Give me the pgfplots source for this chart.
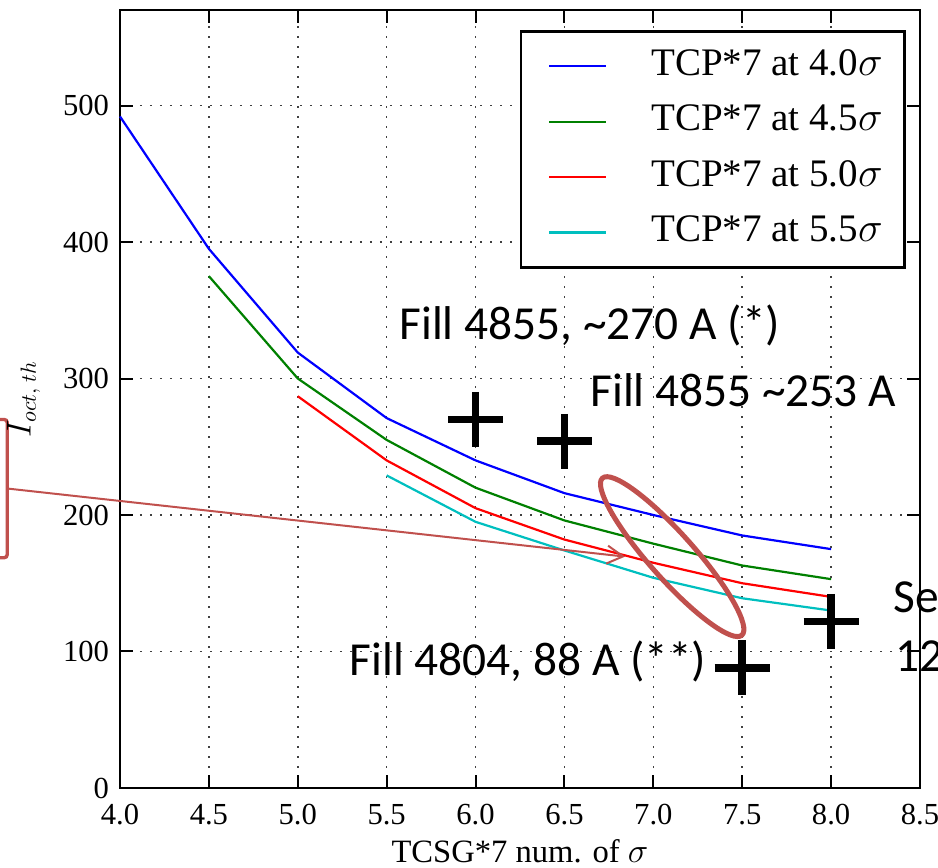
\documentclass[border=0pt]{standalone}
\usepackage{fontspec}
\setmainfont{Liberation Serif}
\newfontfamily\calibri{Carlito}
\usepackage{pgfplots}
\pgfplotsset{compat=1.18}
\usetikzlibrary{arrows.meta,shapes.geometric,calc}
\definecolor{annRed}{RGB}{192,80,77}
\definecolor{mplGreen}{RGB}{0,128,0}
\definecolor{mplCyan}{RGB}{0,191,191}

\begin{document}
\begin{tikzpicture}
\begin{axis}[
    name=ax,
    scale only axis, width=400pt, height=389pt,
    xmin=4, xmax=8.5, ymin=0, ymax=570,
    xtick={4,4.5,5,5.5,6,6.5,7,7.5,8,8.5},
    ytick={0,100,200,300,400,500},
    xticklabel style={/pgf/number format/fixed, /pgf/number format/fixed zerofill, /pgf/number format/precision=1, yshift=-4.5pt},
    yticklabel style={xshift=-2pt},
    /pgf/number format/assume math mode=true,
    tick label style={font=\fontsize{15.3}{18}\selectfont},
    xlabel={TCSG*7 num. of $\sigma$},
    xlabel style={font=\fontsize{16.3}{19}\selectfont, at={(axis description cs:0.5,0)}, anchor=base, yshift=-37.5pt},
    ylabel={$I_{oct,\;th}$},
    ylabel style={font=\fontsize{16}{19}\selectfont, at={(axis description cs:-0.091,0.5)}, anchor=south},
    axis line style={line width=1.3pt},
    tick style={black, line width=1pt},
    major tick length=6.3pt,
    tick align=inside,
    grid=major,
    grid style={black!75, line width=0.8pt, dash pattern=on 1pt off 4pt},
    clip=false,
    legend cell align=left,
    legend style={
        at={(axis description cs:1,1)}, anchor=north east, xshift=-7pt, yshift=-10pt,
        draw=black, line width=1.3pt, fill=white,
        font=\fontsize{19.5}{23}\selectfont,
        inner xsep=11pt, inner ysep=8.5pt,
        nodes={inner sep=0pt, text height=13.5pt, text depth=4.5pt},
        row sep=9.7pt,
        /tikz/every odd column/.append style={column sep=22pt},
    },
    legend image code/.code={\path (0pt,0pt); \draw[#1] (2.5pt,0pt) -- (31pt,0pt);},
]
% TCP*7 at 4.0 sigma
\addplot[blue, line width=1.1pt] coordinates {
    (4.0,492) (4.5,395) (5.0,319) (5.5,271) (6.0,240) (6.5,216) (7.0,200) (7.5,185) (8.0,175)
};
\addlegendentry{TCP*7 at 4.0$\sigma$}
% TCP*7 at 4.5 sigma
\addplot[mplGreen, line width=1.1pt] coordinates {
    (4.5,375) (5.0,300) (5.5,255) (6.0,220) (6.5,196) (7.0,179) (7.5,163) (8.0,153)
};
\addlegendentry{TCP*7 at 4.5$\sigma$}
% TCP*7 at 5.0 sigma
\addplot[red, line width=1.1pt] coordinates {
    (5.0,287) (5.5,240) (6.0,205) (6.5,182) (7.0,165) (7.5,150) (8.0,140)
};
\addlegendentry{TCP*7 at 5.0$\sigma$}
% TCP*7 at 5.5 sigma
\addplot[mplCyan, line width=1.1pt] coordinates {
    (5.5,229) (6.0,195) (6.5,174) (7.0,154) (7.5,139) (8.0,130)
};
\addlegendentry{TCP*7 at 5.5$\sigma$}

% measured fills
\addplot[only marks, mark=+, mark size=13.75pt, black, mark options={line width=3.8pt}, forget plot] coordinates {
    (6.0,270) (6.5,254) (7.5,88) (8.0,122)
};

% annotations
\draw[annRed, line width=1.7pt, rounded corners=1.5pt] (axis cs:2.9,270) rectangle (axis cs:3.3656,168.7);
\draw[annRed, line width=1pt, -{Straight Barb[length=8pt,width=9pt]}] (axis cs:3.3656,219.4) -- (axis cs:6.841,169.5);
\node[draw=annRed, line width=2.5pt, ellipse, inner sep=0pt, minimum width=105pt, minimum height=22.5pt, rotate=-48.4] at (axis cs:7.106,169.5) {};

\begin{scope}[every node/.style={anchor=base west, inner sep=0pt, font=\calibri\fontsize{23.7}{28}\selectfont}]
\node at (axis cs:5.570,328.7) {Fill 4855, \textasciitilde270 A (*)};
\node at (axis cs:6.644,279.5) {Fill 4855 \textasciitilde253 A};
\node at (axis cs:5.289,82.2) {Fill 4804, 88 A (**)};
\node at (axis cs:8.348,128.4) {Se};
\node at (axis cs:8.359,85.1) {12};
\end{scope}
\end{axis}
\pgfresetboundingbox
\path[use as bounding box] ($(ax.south west)+(-60pt,-40pt)$) rectangle ($(ax.north east)+(9pt,5pt)$);
\end{tikzpicture}
\end{document}
